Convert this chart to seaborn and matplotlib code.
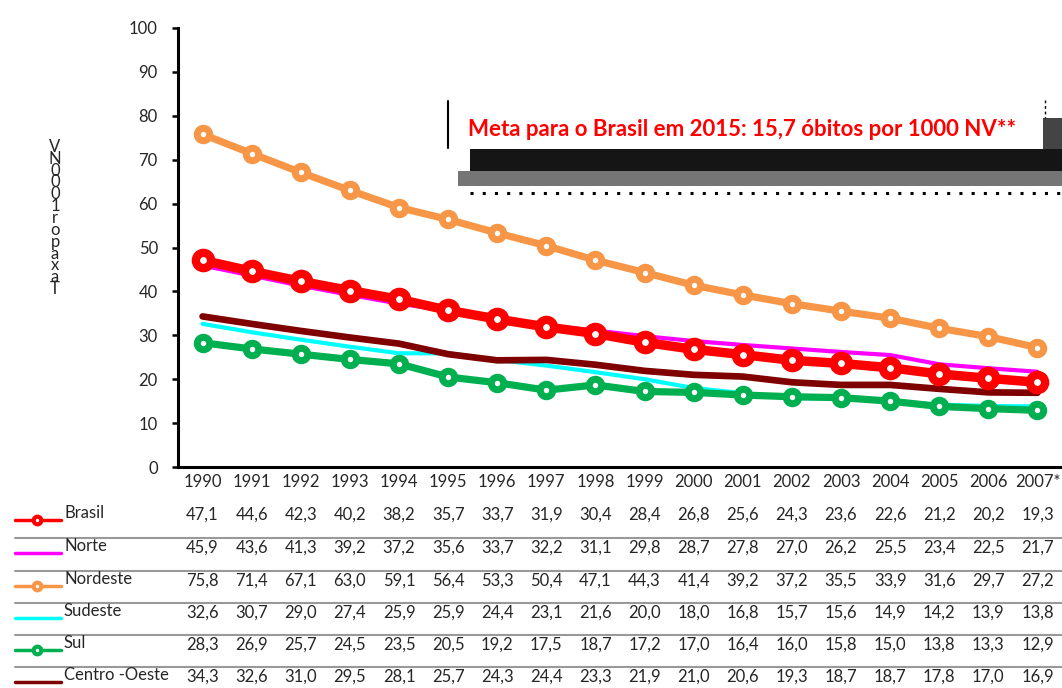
import numpy as np
import pandas as pd
import matplotlib
matplotlib.use("Agg")
import matplotlib.pyplot as plt
import matplotlib.transforms as mtransforms
from matplotlib.patches import Rectangle
from matplotlib.lines import Line2D
import seaborn as sns

years = ["1990", "1991", "1992", "1993", "1994", "1995", "1996", "1997", "1998",
         "1999", "2000", "2001", "2002", "2003", "2004", "2005", "2006", "2007*"]
brasil = [47.1, 44.6, 42.3, 40.2, 38.2, 35.7, 33.7, 31.9, 30.4, 28.4, 26.8, 25.6, 24.3, 23.6, 22.6, 21.2, 20.2, 19.3]
norte = [45.9, 43.6, 41.3, 39.2, 37.2, 35.6, 33.7, 32.2, 31.1, 29.8, 28.7, 27.8, 27.0, 26.2, 25.5, 23.4, 22.5, 21.7]
nordeste = [75.8, 71.4, 67.1, 63.0, 59.1, 56.4, 53.3, 50.4, 47.1, 44.3, 41.4, 39.2, 37.2, 35.5, 33.9, 31.6, 29.7, 27.2]
sudeste = [32.6, 30.7, 29.0, 27.4, 25.9, 25.9, 24.4, 23.1, 21.6, 20.0, 18.0, 16.8, 15.7, 15.6, 14.9, 14.2, 13.9, 13.8]
sul = [28.3, 26.9, 25.7, 24.5, 23.5, 20.5, 19.2, 17.5, 18.7, 17.2, 17.0, 16.4, 16.0, 15.8, 15.0, 13.8, 13.3, 12.9]
centro_oeste = [34.3, 32.6, 31.0, 29.5, 28.1, 25.7, 24.3, 24.4, 23.3, 21.9, 21.0, 20.6, 19.3, 18.7, 18.7, 17.8, 17.0, 16.9]
series_names = ["Brasil", "Norte", "Nordeste", "Sudeste", "Sul", "Centro -Oeste"]
series_values = [brasil, norte, nordeste, sudeste, sul, centro_oeste]
annotation = "Meta para o Brasil em 2015: 15,7 óbitos por 1000 NV**"
ylabel = "Taxa por 1000 NV"

sns.set_style("white")
plt.rcParams['font.family'] = ['Lato', 'DejaVu Sans']

W, H = 1062, 688
fig = plt.figure(figsize=(W / 100, H / 100), dpi=100)
ax = fig.add_axes([178 / W, 1 - 467 / H, (1062 - 178) / W, (467 - 28) / H])

styles = {
    "Brasil": dict(color="#FF0000", lw=6.8, marker="o", ms=11, mew=6.0, mfc="white", z=5),
    "Norte": dict(color="#FF00FF", lw=3.0, marker=None, ms=0, mew=0, mfc="none", z=4),
    "Nordeste": dict(color="#F79646", lw=5.2, marker="o", ms=9, mew=5.0, mfc="white", z=6),
    "Sudeste": dict(color="#00FFFF", lw=3.0, marker=None, ms=0, mew=0, mfc="none", z=2),
    "Sul": dict(color="#00B050", lw=5.2, marker="o", ms=9, mew=5.0, mfc="white", z=4),
    "Centro -Oeste": dict(color="#7F0000", lw=4.8, marker=None, ms=0, mew=0, mfc="none", z=3),
}

xs = np.arange(len(years))
for name, vals in zip(series_names, series_values):
    st = styles[name]
    df = pd.DataFrame({"x": xs, "y": vals})
    kw = dict(color=st["color"], linewidth=st["lw"], zorder=st["z"], solid_joinstyle="round")
    if st["marker"]:
        kw.update(marker=st["marker"], markersize=st["ms"], markeredgewidth=st["mew"],
                  markerfacecolor=st["mfc"], markeredgecolor=st["color"])
    sns.lineplot(data=df, x="x", y="y", ax=ax, sort=False, **kw)

ax.set_xlim(-0.5, len(years) - 0.5)
ax.set_ylim(0, 100)
ax.set_yticks(range(0, 101, 10))
ax.set_xticks(xs)
ax.set_xticklabels(years)
ax.set_xlabel("")
ax.set_ylabel("")
for s in ["top", "right"]:
    ax.spines[s].set_visible(False)
for s in ["left", "bottom"]:
    ax.spines[s].set_color("black")
    ax.spines[s].set_linewidth(2.2)
ax.tick_params(axis="y", direction="out", length=4.5, width=1.8, pad=10, labelsize=12, left=True, color="black")
ax.tick_params(axis="x", length=0, pad=5, labelsize=12)
ax.set_facecolor("white")

# stacked y label (reversed characters)
chars = [c for c in ylabel if c != " "][::-1]
fig.text(55 / W, 1 - 218 / H, "\n".join(chars), ha="center", va="center",
         fontsize=12, linespacing=0.68)

# annotation box with shadow artefact
def px_rect(x0, y0, x1, y1, **kw):
    r = Rectangle((x0 / W, 1 - y1 / H), (x1 - x0) / W, (y1 - y0) / H,
                  transform=fig.transFigure, **kw)
    fig.add_artist(r)

px_rect(470, 149, 1062, 171, facecolor="#151515", edgecolor="none", zorder=8)
px_rect(458, 171, 1062, 186, facecolor="#757575", edgecolor="none", zorder=8)
px_rect(1043, 118, 1062, 149, facecolor="#444444", edgecolor="none", zorder=8)
fig.add_artist(Line2D([470 / W, 1062 / W], [1 - 193 / H] * 2, transform=fig.transFigure,
                      color="black", lw=2.2, linestyle=(0, (1, 3)), zorder=8))
px_rect(448, 101, 1043, 148, facecolor="white", edgecolor="none", zorder=9)
fig.add_artist(Line2D([448 / W, 448 / W], [1 - 101 / H, 1 - 148 / H], transform=fig.transFigure,
                      color="black", lw=1.5, zorder=10))
fig.add_artist(Line2D([1045 / W, 1045 / W], [1 - 100 / H, 1 - 118 / H], transform=fig.transFigure,
                      color="black", lw=1.0, linestyle=(0, (2, 2)), zorder=10))
fig.text(742 / W, 1 - 130 / H, annotation, color="#FF0000", fontsize=16, fontweight="bold",
         ha="center", va="center", zorder=11)

# data table below the chart
blend = mtransforms.blended_transform_factory(ax.transData, fig.transFigure)
row_y = [515, 548, 581, 613, 645, 677]
for i, (name, vals) in enumerate(zip(series_names, series_values)):
    yc = 1 - row_y[i] / H
    for x, v in zip(xs, vals):
        fig.text(x, yc, f"{v:.1f}".replace(".", ","), transform=blend, ha="center",
                 va="center", fontsize=12)
    st = styles[name]
    ys = 1 - (row_y[i] + 5) / H
    fig.add_artist(Line2D([15 / W, 61 / W], [ys, ys], transform=fig.transFigure,
                          color=st["color"], lw=2.5))
    if st["marker"]:
        fig.add_artist(Line2D([37 / W], [ys], transform=fig.transFigure, marker="o",
                              markersize=5.5, markeredgewidth=3, markerfacecolor="white",
                              markeredgecolor=st["color"], linestyle="none"))
    fig.text(64 / W, yc + 2 / H, name, ha="left", va="center", fontsize=12)
    if i < len(series_names) - 1:
        sy = 1 - (row_y[i] + row_y[i + 1]) / 2 / H - 6 / H
        fig.add_artist(Line2D([15 / W, 1062 / W], [sy, sy], transform=fig.transFigure,
                              color="#999999", lw=1.5))

fig.savefig("out.png", dpi=100, facecolor="white")
